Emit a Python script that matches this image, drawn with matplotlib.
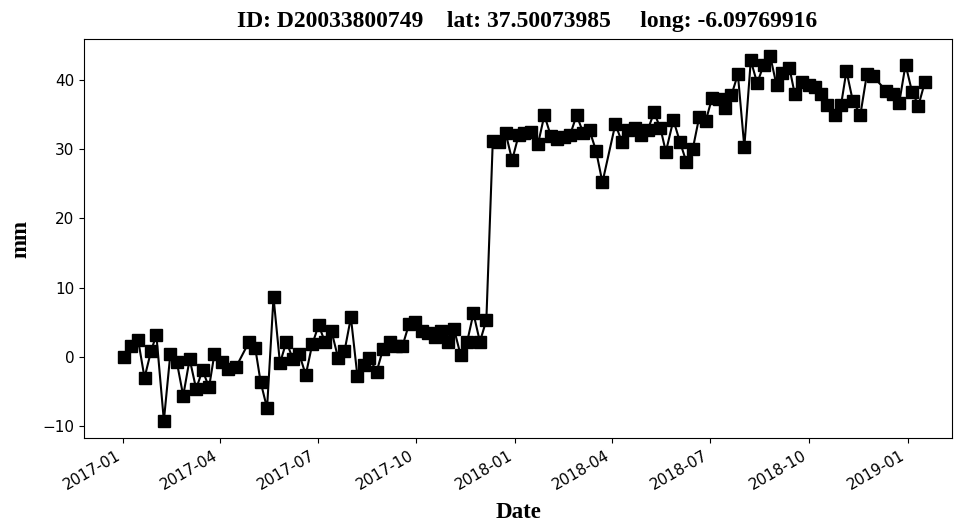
import matplotlib
matplotlib.use("Agg")
import matplotlib.pyplot as plt
import matplotlib.dates as mdates
import pandas as pd

# days after 2017-01-01 for each acquisition
day_offsets = [1, 7, 14, 20, 26, 31, 38, 44, 50, 56, 62, 68, 74, 80, 85, 92, 98, 105,
               117, 123, 128, 134, 140, 146, 152, 158, 164, 170, 176, 182, 188, 194, 200,
               206, 212, 218, 224, 229, 236, 242, 248, 254, 260, 266, 272, 278, 284, 290,
               296, 302, 308, 314, 320, 326, 332, 338,
               344, 350, 356, 362, 368, 373, 380, 386, 392, 398, 404, 410, 416, 422, 428,
               434, 440, 446, 458, 464, 470, 476, 482, 488, 494, 500, 505, 512, 518, 524,
               530, 536, 542, 548, 554, 560, 566, 572, 578, 584, 590, 596, 602, 608, 613,
               620, 625, 632, 638, 644, 649, 655, 662, 668, 673, 679, 686, 692, 698, 710,
               716, 722, 728, 734, 740, 746]

displacement_mm = [0.0, 1.6, 2.5, -3.0, 0.8, 3.2, -9.2, 0.4, -0.7, -5.6, -0.3, -4.6, -1.9,
                   -4.4, 0.4, -0.8, -1.8, -1.5,
                   2.1, 1.3, -3.6, -7.4, 8.6, -0.9, 2.2, -0.3, 0.4, -2.6, 1.8, 4.6, 2.1, 3.7,
                   -0.1, 0.8, 5.7, -2.7, -1.2, -0.1, -2.1, 1.2, 2.1, 1.6, 1.6, 4.7, 5.1, 3.7,
                   3.4, 2.9, 3.7, 2.1, 4.0, 0.3, 2.1, 6.3, 2.2, 5.3,
                   31.2, 31.1, 32.3, 28.4, 32.0, 32.4, 32.5, 30.7, 34.9, 31.9, 31.4, 31.8,
                   32.1, 34.9, 32.4, 32.7, 29.8, 25.2, 33.6, 31.1, 32.8, 33.0, 32.0, 32.7,
                   35.3, 33.0, 29.6, 34.2, 31.1, 28.2, 30.0, 34.6, 34.0, 37.4, 37.3, 35.9,
                   37.8, 40.8, 30.3, 42.8, 39.5, 42.2, 43.5, 39.2, 41.0, 41.7, 37.9, 39.7,
                   39.3, 38.9, 37.9, 36.4, 35.0, 36.4, 41.3, 36.9, 35.0, 40.8, 40.5, 38.4,
                   37.9, 36.6, 42.2, 38.3, 36.3, 39.7]

title_text = "ID: D20033800749    lat: 37.50073985     long: -6.09769916"
start_date = "2017-01-01"

dates = pd.to_datetime(start_date) + pd.to_timedelta(day_offsets, unit="D")

fig = plt.figure(figsize=(9.55, 5.27), dpi=100)
ax = fig.add_axes([84 / 955, 89 / 527, (952 - 84) / 955, (438 - 39) / 527])

ax.plot(dates, displacement_mm, color="black", marker="s", markersize=8,
        linewidth=1.5)

ax.set_xlim(pd.to_datetime(start_date) - pd.Timedelta(days=36.3),
            pd.to_datetime(start_date) + pd.Timedelta(days=771.2))
ax.set_ylim(-11.7, 45.9)

ax.xaxis.set_major_locator(mdates.MonthLocator(bymonth=[1, 4, 7, 10]))
ax.xaxis.set_major_formatter(mdates.DateFormatter("%Y-%m"))
ax.set_yticks([-10, 0, 10, 20, 30, 40])
for lbl in ax.get_xticklabels():
    lbl.set_rotation(30)
    lbl.set_ha("right")
ax.tick_params(labelsize=11)

serif = ["Liberation Serif", "DejaVu Serif"]
ax.set_xlabel("Date", fontfamily=serif, fontweight="bold", fontsize=16.5, labelpad=7)
ax.set_ylabel("mm", fontfamily=serif, fontweight="bold", fontsize=16.5, labelpad=8)
ax.set_title(title_text, fontfamily=serif, fontweight="bold", fontsize=17, pad=9, x=0.51)

fig.savefig("out.png", dpi=100)
